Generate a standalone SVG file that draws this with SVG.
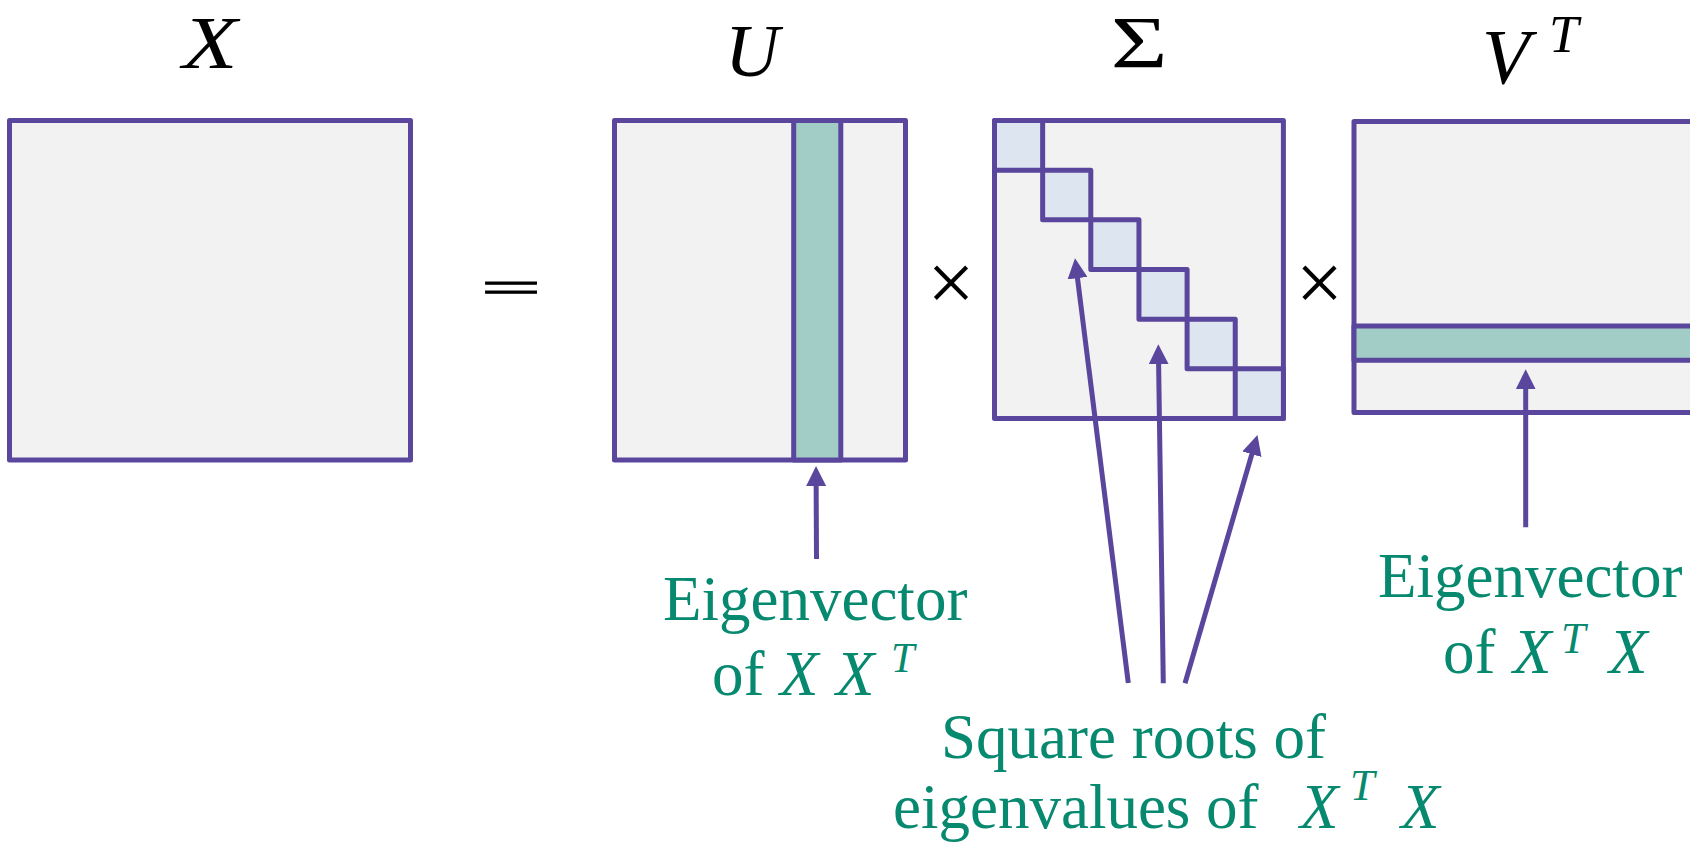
<svg xmlns="http://www.w3.org/2000/svg" width="1690" height="843" viewBox="0 0 1690 843">
<style>
.box{fill:#f2f2f2;stroke:#5a469c;stroke-width:5;stroke-linejoin:round}
.hl{fill:#a2cdc6;stroke:#5a469c;stroke-width:5;stroke-linejoin:round}
.sq{fill:#dce5f0;stroke:#5a469c;stroke-width:5;stroke-linejoin:round}
.title{font-family:"Liberation Serif","Times New Roman",serif;font-size:75px;fill:#000}
.it{font-style:italic}
.lbl{font-family:"Liberation Serif","Times New Roman",serif;font-size:63px;fill:#07896f}
.sup{font-size:44px}
.arrow{stroke:#5a469c;stroke-width:5;fill:none;marker-end:url(#ah)}
.op{font-family:"Liberation Serif","Times New Roman",serif;fill:#000}
</style>
<defs>
<marker id="ah" markerUnits="userSpaceOnUse" markerWidth="20" markerHeight="20" refX="8" refY="10" orient="auto"><path d="M0,0 L20,10 L0,20 z" fill="#5a469c"/></marker>
</defs>
<rect width="1690" height="843" fill="#fff"/>
<g id="matrix-X">
<text class="title it" transform="translate(210,68) scale(1.2,1)" text-anchor="middle" font-size="77">X</text>
<rect class="box" x="9.5" y="120.5" width="401" height="339.5"/>
</g>
<text id="equals" class="op" transform="translate(511,302) scale(1.12,0.47)" text-anchor="middle" font-size="95" stroke="#000" stroke-width="2.2">=</text>
<g id="matrix-U">
<text class="title it" x="752" y="76" text-anchor="middle">U</text>
<rect class="box" x="614.5" y="120.5" width="291" height="339.5"/>
<rect class="hl" x="793.7" y="120.5" width="47.1" height="339.5"/>
</g>
<text id="times1" class="op" x="951" y="311" font-size="84" text-anchor="middle">×</text>
<g id="matrix-Sigma">
<text class="title" transform="translate(1139,68) scale(1.3,1)" text-anchor="middle">Σ</text>
<rect class="box" x="994.5" y="120.5" width="288.9" height="298"/>
<rect class="sq" x="994.5" y="120.5" width="48.15" height="49.67"/>
<rect class="sq" x="1042.65" y="170.17" width="48.15" height="49.67"/>
<rect class="sq" x="1090.8" y="219.84" width="48.15" height="49.67"/>
<rect class="sq" x="1138.95" y="269.51" width="48.15" height="49.67"/>
<rect class="sq" x="1187.1" y="319.18" width="48.15" height="49.67"/>
<rect class="sq" x="1235.25" y="368.85" width="48.15" height="49.67"/>
</g>
<text id="times2" class="op" x="1319.5" y="311" font-size="84" text-anchor="middle">×</text>
<g id="matrix-VT">
<text class="title"><tspan class="it" x="1482" y="83" font-size="78">V</tspan><tspan class="it" x="1549" y="52" font-size="53">T</tspan></text>
<rect class="box" x="1354" y="121.5" width="360" height="291"/>
<rect class="hl" x="1354" y="326" width="360" height="34.3"/>
</g>
<g id="label-U">
<text class="lbl" x="663" y="620">Eigenvector</text>
<text class="lbl" y="695"><tspan x="712">of</tspan><tspan class="it" x="780">X</tspan><tspan class="it" x="836">X</tspan><tspan class="it" x="891" y="672" font-size="42">T</tspan></text>
</g>
<g id="label-VT">
<text class="lbl" x="1378" y="597">Eigenvector</text>
<text class="lbl" y="673"><tspan x="1443">of</tspan><tspan class="it" x="1513">X</tspan><tspan class="it sup" x="1561" y="653">T</tspan><tspan class="it" x="1609" y="673">X</tspan></text>
</g>
<g id="label-Sigma">
<text class="lbl" x="941" y="758">Square roots of</text>
<text class="lbl" y="828"><tspan x="893">eigenvalues of</tspan><tspan class="it" x="1300">X</tspan><tspan class="it sup" x="1350" y="800">T</tspan><tspan class="it" x="1401" y="828">X</tspan></text>
</g>
<g id="connectors">
<line class="arrow" x1="816.5" y1="559" x2="816.1" y2="478"/>
<line class="arrow" x1="1128.3" y1="683" x2="1076.5" y2="270.2"/>
<line class="arrow" x1="1163.3" y1="683.3" x2="1158.5" y2="356.3"/>
<line class="arrow" x1="1185" y1="683.3" x2="1254.1" y2="446.5"/>
<line class="arrow" x1="1525.7" y1="527.3" x2="1525.7" y2="381.3"/>
</g>
</svg>
